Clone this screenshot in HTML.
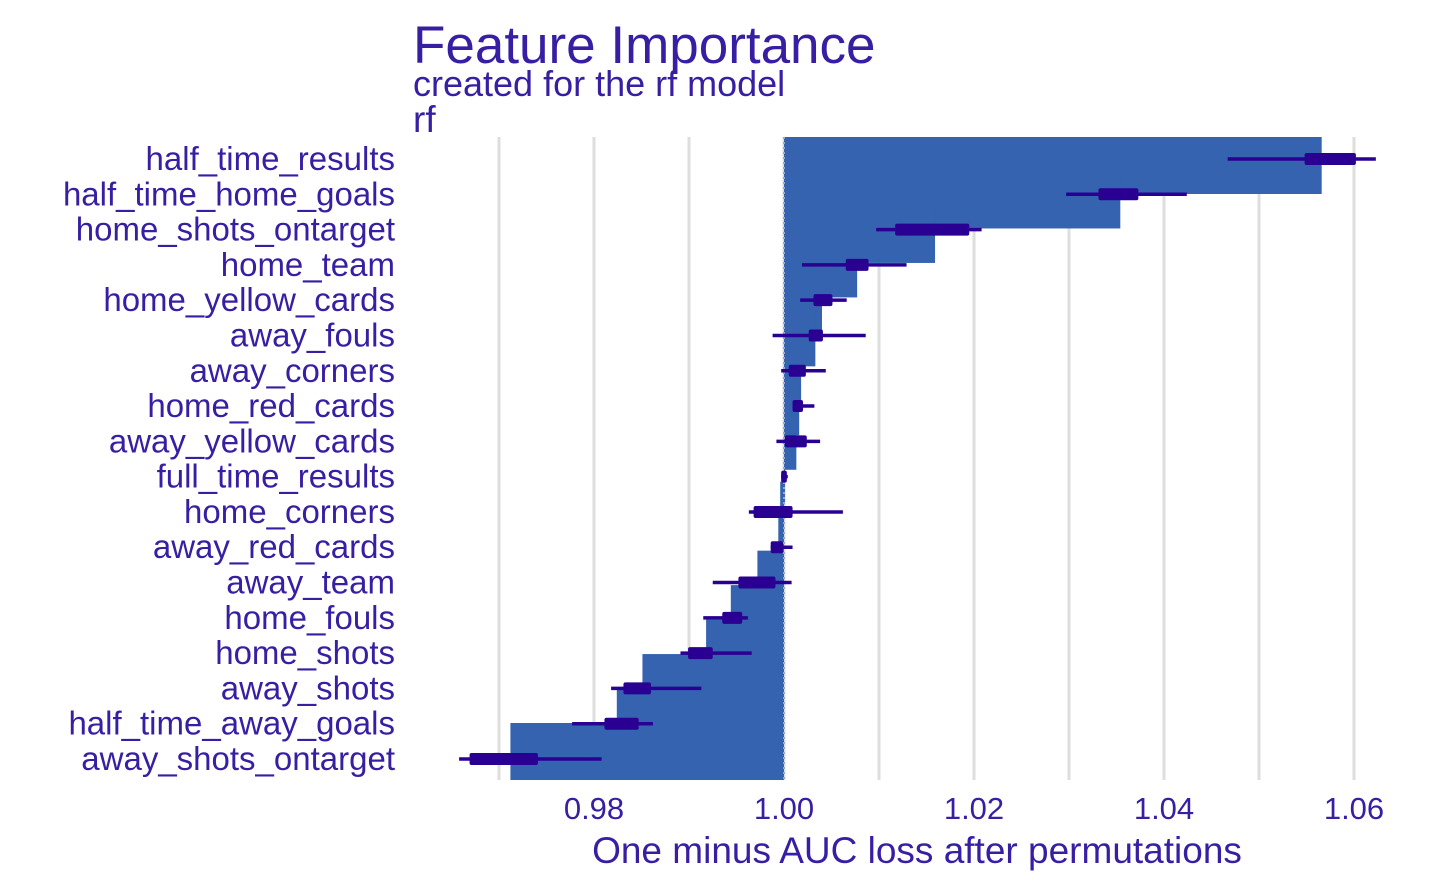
<!DOCTYPE html>
<html><head><meta charset="utf-8"><style>
html,body{margin:0;padding:0;background:#fff}
svg{display:block;font-family:"Liberation Sans",Arial,sans-serif}
</style></head><body>
<svg id="chart" width="1440" height="889" viewBox="0 0 1440 889">
<text x="413" y="63" font-size="53" fill="#371ea3">Feature Importance</text>
<text x="413" y="96" font-size="36" fill="#371ea3">created for the rf model</text>
<text x="413" y="132" font-size="37" fill="#371ea3">rf</text>
<g id="grid"></g><g id="bars"></g><g id="base"></g><g id="boxes"></g><g id="labels"></g><g id="ticks"></g>
<text x="917" y="863" font-size="37" fill="#371ea3" text-anchor="middle">One minus AUC loss after permutations</text>
</svg>
<script>
const features = ["half_time_results","half_time_home_goals","home_shots_ontarget","home_team","home_yellow_cards","away_fouls","away_corners","home_red_cards","away_yellow_cards","full_time_results","home_corners","away_red_cards","away_team","home_fouls","home_shots","away_shots","half_time_away_goals","away_shots_ontarget"];
const meanLoss = [1.0566,1.0354,1.0159,1.0077,1.0040,1.0033,1.0018,1.0016,1.0013,1.0001,0.9996,0.9994,0.9972,0.9944,0.9918,0.9851,0.9824,0.9712];
const minLoss = [1.0467,1.0297,1.0097,1.0019,1.0017,0.9988,0.9997,1.0009,0.9992,0.9997,0.9963,0.9986,0.9925,0.9915,0.9891,0.9818,0.9777,0.9658];
const q1Loss = [1.0548,1.0331,1.0117,1.0065,1.0031,1.0026,1.0005,1.0009,1.0001,0.9997,0.9968,0.9986,0.9952,0.9935,0.9899,0.9831,0.9811,0.9669];
const q3Loss = [1.0602,1.0373,1.0195,1.0089,1.0051,1.0041,1.0023,1.0020,1.0024,1.0003,1.0009,0.9999,0.9991,0.9956,0.9925,0.9860,0.9847,0.9741];
const maxLoss = [1.0623,1.0424,1.0208,1.0129,1.0066,1.0086,1.0044,1.0032,1.0038,1.0004,1.0062,1.0009,1.0008,0.9962,0.9966,0.9913,0.9862,0.9808];
const baseline = 1.0;
const tickValues = [0.98,1.00,1.02,1.04,1.06];
const tickLabels = ["0.98","1.00","1.02","1.04","1.06"];
const gridValues = [0.97,0.98,0.99,1.00,1.01,1.02,1.03,1.04,1.05,1.06];

const NS="http://www.w3.org/2000/svg";
const x = v => 784 + (v-1)*9500;
const n = features.length;
const y = i => 159 + i*(759-159)/(n-1);
function mk(tag, attrs, parent){const e=document.createElementNS(NS,tag);for(const k in attrs)e.setAttribute(k,attrs[k]);document.getElementById(parent).appendChild(e);return e;}

gridValues.forEach(v=>{
  const l=mk("line",{x1:x(v),x2:x(v),y1:137,y2:780,stroke:"#dedede","stroke-width":3},"grid");
  
  
});
features.forEach((f,i)=>{
  const top = y(i)-22-14*i/(n-1);
  const x0=Math.min(x(baseline),x(meanLoss[i])), x1=Math.max(x(baseline),x(meanLoss[i]));
  const r=mk("rect",{x:x0,y:top,width:Math.max(x1-x0,0.5),height:57,fill:"#3563b0"},"bars");
  
  
});
const bl=mk("line",{x1:x(baseline),x2:x(baseline),y1:137,y2:780,stroke:"#9aa8c8","stroke-width":2,"stroke-dasharray":"2,3"},"base");



features.forEach((f,i)=>{
  const g=mk("g",{},"boxes");
  
  
  const w=document.createElementNS(NS,"line");
  w.setAttribute("x1",x(minLoss[i]));w.setAttribute("x2",x(maxLoss[i]));w.setAttribute("y1",y(i));w.setAttribute("y2",y(i));
  w.setAttribute("stroke","#2a0093");w.setAttribute("stroke-width",3.5);
  g.appendChild(w);
  const b=document.createElementNS(NS,"rect");
  const bw=Math.max(x(q3Loss[i])-x(q1Loss[i]),5);
  b.setAttribute("x",x(q1Loss[i]));b.setAttribute("y",y(i)-6);b.setAttribute("width",bw);b.setAttribute("height",12);b.setAttribute("rx",2);
  b.setAttribute("fill","#2a0093");
  g.appendChild(b);
  const t=mk("text",{x:395,y:y(i)+11,"font-size":33,fill:"#371ea3","text-anchor":"end"},"labels");
  t.textContent=f;
  
  
});
tickValues.forEach((v,i)=>{
  const t=mk("text",{x:x(v),y:819,"font-size":31,fill:"#371ea3","text-anchor":"middle"},"ticks");
  t.textContent=tickLabels[i];
  
  
});
</script>
</body></html>
